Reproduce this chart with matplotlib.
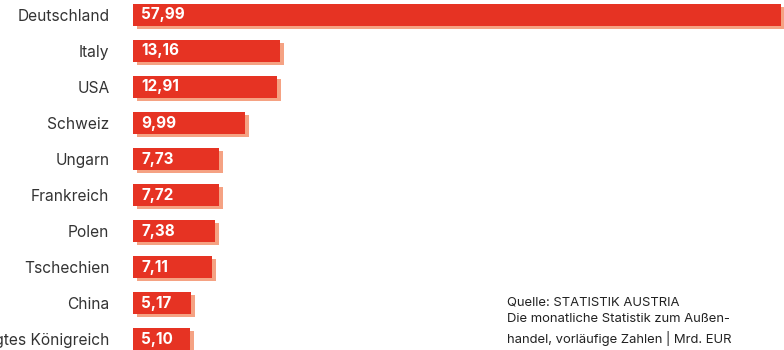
import matplotlib
matplotlib.use("Agg")
import matplotlib.pyplot as plt

# Exporte nach Zielland, Mrd. EUR
laender = ["Deutschland", "Italy", "USA", "Schweiz", "Ungarn", "Frankreich",
           "Polen", "Tschechien", "China", "Vereinigtes Königreich"]
werte = [57.99, 13.16, 12.91, 9.99, 7.73, 7.72, 7.38, 7.11, 5.17, 5.10]

rot = "#E63323"
schatten = "#F5A283"
textfarbe = "#333333"

plt.rcParams["font.family"] = ["Inter", "DejaVu Sans"]

fig = plt.figure(figsize=(7.84, 3.5), dpi=100)
ax = fig.add_axes([133 / 784, 0, 651 / 784, 1])

px_x = 11.17   # Pixel pro Einheit
px_y = 36.0    # Pixel pro Zeile
ax.set_xlim(0, 651 / px_x)
ax.set_ylim((350 - 15) / px_y, -15 / px_y)

pos = list(range(len(laender)))
h = 22 / px_y

# Schatten leicht versetzt
ax.barh([p + 3 / px_y for p in pos], werte, left=4 / px_x, height=h,
        color=schatten, zorder=1)
ax.barh(pos, werte, height=h, color=rot, zorder=2)

for p, w in zip(pos, werte):
    ax.text(8 / px_x, p, f"{w:.2f}".replace(".", ","), color="white",
            fontsize=11, fontweight="bold", va="center", ha="left",
            zorder=3)

ax.set_yticks(pos)
ax.set_yticklabels(laender, fontsize=11.2, color=textfarbe)
ax.tick_params(axis="y", length=0, pad=17)
ax.set_xticks([])
for s in ax.spines.values():
    s.set_visible(False)

# Quelle unten rechts
fig.text(507 / 784, 1 - 296 / 350,
         "Quelle: STATISTIK AUSTRIA\nDie monatliche Statistik zum Außen-\n"
         "handel, vorläufige Zahlen | Mrd. EUR",
         fontsize=9.4, color="#222222", va="top", ha="left",
         linespacing=1.5)

fig.savefig("out.png", dpi=100)
